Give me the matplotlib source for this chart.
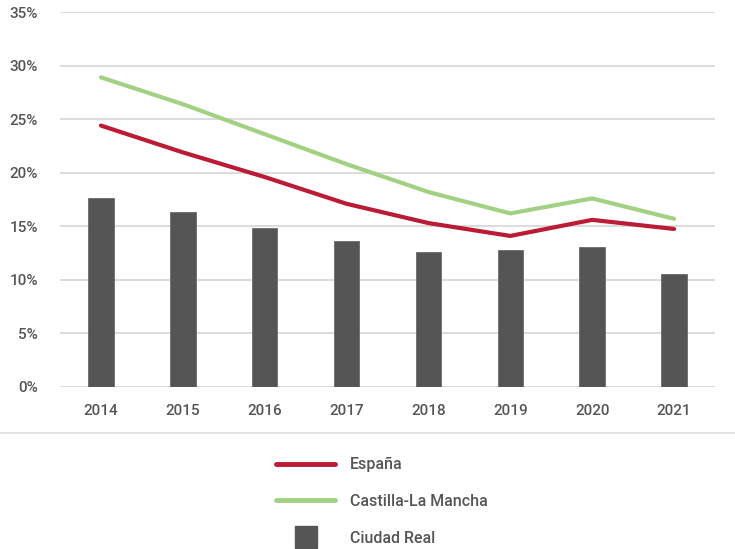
import numpy as np
import matplotlib.pyplot as plt
from matplotlib.lines import Line2D

plt.rcParams['font.family'] = ['Roboto', 'DejaVu Sans']

years = ['2014', '2015', '2016', '2017', '2018', '2019', '2020', '2021']
ciudad_real = [17.6, 16.3, 14.8, 13.6, 12.6, 12.8, 13.1, 10.55]
espana = [24.4, 21.9, 19.6, 17.1, 15.3, 14.1, 15.6, 14.75]
castilla = [28.9, 26.4, 23.6, 20.8, 18.2, 16.2, 17.6, 15.7]

red = '#bb1b35'
green = '#a3d184'
bar_c = '#555555'
txt = '#555555'
grid_c = '#d9d9d9'

fig = plt.figure(figsize=(7.35, 5.49), dpi=100)
ax = fig.add_axes([60/735, 1-387/549, 655/735, 375/549])

x = np.arange(len(years))
ax.bar(x, ciudad_real, width=0.31, color=bar_c, edgecolor='#6a6a6a', linewidth=0.6, zorder=2)
ax.plot(x, castilla, color=green, lw=3, solid_capstyle='round', zorder=3)
ax.plot(x, espana, color=red, lw=3, solid_capstyle='round', zorder=3)

ax.set_xlim(-0.5, 7.5)
ax.set_ylim(0, 35)
ax.set_yticks(range(0, 36, 5))
ax.set_yticklabels([f'{v}%' for v in range(0, 36, 5)])
ax.set_xticks(x)
ax.set_xticklabels(years)
ax.grid(axis='y', color=grid_c, lw=1.3, zorder=0)
ax.set_axisbelow(True)
for s in ax.spines.values():
    s.set_visible(False)
ax.tick_params(length=0, labelsize=11, colors=txt)
ax.tick_params(axis='y', pad=16)
ax.tick_params(axis='x', pad=12)
for t in ax.get_xticklabels() + ax.get_yticklabels():
    t.set_fontweight('medium')

# separator line
fig.add_artist(Line2D([0, 1], [1-433/549, 1-433/549], color='#dedede', lw=1.2))

handles = [
    Line2D([], [], color=red, lw=3.5, solid_capstyle='round'),
    Line2D([], [], color=green, lw=3.5, solid_capstyle='round'),
    Line2D([], [], color=bar_c, marker='s', markersize=16, linestyle='none'),
]
leg = fig.legend(handles, ['España', 'Castilla-La Mancha', 'Ciudad Real'],
                 loc='upper left', bbox_to_anchor=(262/735, 1-443/549),
                 frameon=False, fontsize=11.5, handlelength=3.7, handletextpad=0.9,
                 labelspacing=1.35)
for t in leg.get_texts():
    t.set_color(txt)
    t.set_fontweight('medium')

fig.savefig('out.png', dpi=100)
